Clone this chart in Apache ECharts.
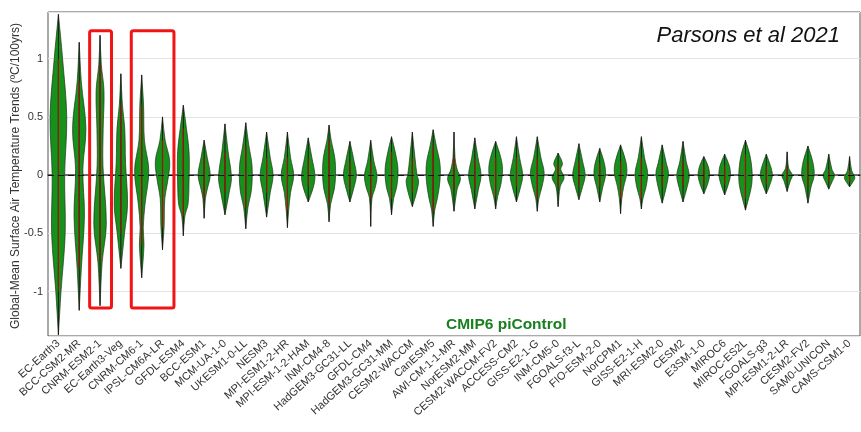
<!DOCTYPE html>
<html>
<head>
<meta charset="utf-8">
<script src="https://cdn.jsdelivr.net/npm/echarts@6/dist/echarts.min.js"></script>
<style>
  html, body { margin: 0; padding: 0; background: #fff; }
  #chart { width: 861px; height: 432px; }
</style>
</head>
<body>
<div id="chart"></div>
<script>
// CMIP6 models, in the order shown
var models = [
  'EC-Earth3', 'BCC-CSM2-MR', 'CNRM-ESM2-1', 'EC-Earth3-Veg', 'CNRM-CM6-1',
  'IPSL-CM6A-LR', 'GFDL-ESM4', 'BCC-ESM1', 'MCM-UA-1-0', 'UKESM1-0-LL',
  'NESM3', 'MPI-ESM1-2-HR', 'MPI-ESM-1-2-HAM', 'INM-CM4-8', 'HadGEM3-GC31-LL',
  'GFDL-CM4', 'HadGEM3-GC31-MM', 'CESM2-WACCM', 'CanESM5', 'AWI-CM-1-1-MR',
  'NorESM2-MM', 'CESM2-WACCM-FV2', 'ACCESS-CM2', 'GISS-E2-1-G', 'INM-CM5-0',
  'FGOALS-f3-L', 'FIO-ESM-2-0', 'NorCPM1', 'GISS-E2-1-H', 'MRI-ESM2-0',
  'CESM2', 'E3SM-1-0', 'MIROC6', 'MIROC-ES2L', 'FGOALS-g3',
  'MPI-ESM1-2-LR', 'CESM2-FV2', 'SAM0-UNICON', 'CAMS-CSM1-0'
];

// violin outlines: [trend value, relative density], from top tip to bottom tip
var violins = [
  [[1.38,0],[1.0,0.4],[0.5,0.8],[0.0,0.6],[-0.5,0.65],[-1.0,0.25],[-1.37,0]],
  [[1.14,0],[0.8,0.2],[0.4,0.64],[0.05,0.35],[-0.35,0.5],[-0.8,0.2],[-1.16,0]],
  [[1.2,0],[0.95,0.12],[0.72,0.38],[0.4,0.3],[0.08,0.28],[-0.42,0.6],[-0.75,0.2],[-1.12,0]],
  [[0.87,0],[0.6,0.15],[0.4,0.37],[0.1,0.45],[-0.25,0.64],[-0.5,0.35],[-0.8,0]],
  [[0.86,0],[0.6,0.18],[0.3,0.26],[0.04,0.68],[-0.25,0.32],[-0.45,0.15],[-0.6,0.22],[-0.88,0]],
  [[0.5,0],[0.3,0.25],[0.12,0.69],[-0.05,0.5],[-0.2,0.22],[-0.45,0.15],[-0.64,0]],
  [[0.6,0],[0.4,0.3],[0.2,0.55],[-0.05,0.55],[-0.25,0.45],[-0.35,0.15],[-0.52,0]],
  [[0.3,0],[0.15,0.3],[0.0,0.58],[-0.12,0.3],[-0.2,0.12],[-0.37,0]],
  [[0.44,0],[0.2,0.3],[-0.02,0.62],[-0.15,0.4],[-0.34,0]],
  [[0.45,0],[0.25,0.3],[0.08,0.6],[-0.12,0.55],[-0.28,0.2],[-0.46,0]],
  [[0.37,0],[0.15,0.35],[0.0,0.62],[-0.15,0.35],[-0.36,0]],
  [[0.37,0],[0.15,0.3],[0.0,0.6],[-0.15,0.3],[-0.3,0.12],[-0.45,0]],
  [[0.32,0],[0.15,0.35],[0.0,0.64],[-0.1,0.5],[-0.23,0]],
  [[0.43,0],[0.3,0.2],[0.15,0.55],[0.0,0.62],[-0.12,0.5],[-0.25,0.15],[-0.4,0]],
  [[0.29,0],[0.12,0.4],[0.0,0.62],[-0.12,0.35],[-0.23,0]],
  [[0.3,0],[0.12,0.3],[0.0,0.6],[-0.1,0.45],[-0.2,0.12],[-0.44,0]],
  [[0.33,0],[0.2,0.35],[0.05,0.62],[-0.1,0.5],[-0.2,0.2],[-0.34,0]],
  [[0.37,0],[0.15,0.25],[0.0,0.45],[-0.05,0.6],[-0.15,0.4],[-0.27,0]],
  [[0.39,0],[0.25,0.3],[0.1,0.65],[-0.05,0.65],[-0.2,0.4],[-0.3,0.15],[-0.44,0]],
  [[0.37,0],[0.15,0.1],[0.05,0.3],[-0.03,0.62],[-0.12,0.3],[-0.31,0]],
  [[0.32,0],[0.15,0.3],[0.0,0.6],[-0.12,0.35],[-0.29,0]],
  [[0.29,0],[0.15,0.5],[0.05,0.66],[-0.08,0.5],[-0.18,0.2],[-0.29,0]],
  [[0.33,0],[0.15,0.3],[0.0,0.6],[-0.1,0.4],[-0.23,0]],
  [[0.33,0],[0.15,0.35],[0.02,0.66],[-0.1,0.45],[-0.2,0.15],[-0.31,0]],
  [[0.19,0],[0.1,0.42],[0.05,0.25],[-0.02,0.58],[-0.1,0.2],[-0.27,0]],
  [[0.27,0],[0.12,0.35],[0.0,0.6],[-0.1,0.35],[-0.21,0]],
  [[0.23,0],[0.1,0.45],[0.0,0.55],[-0.1,0.3],[-0.23,0]],
  [[0.26,0],[0.12,0.5],[0.02,0.6],[-0.1,0.3],[-0.2,0.12],[-0.33,0]],
  [[0.33,0],[0.15,0.3],[0.02,0.6],[-0.1,0.45],[-0.2,0.15],[-0.29,0]],
  [[0.26,0],[0.1,0.4],[0.02,0.6],[-0.1,0.4],[-0.24,0]],
  [[0.29,0],[0.12,0.3],[0.0,0.6],[-0.1,0.4],[-0.23,0]],
  [[0.16,0],[0.08,0.4],[0.0,0.55],[-0.08,0.35],[-0.16,0]],
  [[0.18,0],[0.08,0.45],[0.0,0.55],[-0.08,0.35],[-0.17,0]],
  [[0.3,0],[0.18,0.4],[0.05,0.62],[-0.08,0.6],[-0.2,0.3],[-0.3,0]],
  [[0.18,0],[0.08,0.4],[0.0,0.58],[-0.08,0.35],[-0.16,0]],
  [[0.2,0],[0.06,0.15],[0.0,0.5],[-0.05,0.3],[-0.14,0]],
  [[0.25,0],[0.12,0.45],[0.0,0.6],[-0.1,0.3],[-0.24,0]],
  [[0.18,0],[0.05,0.3],[0.0,0.55],[-0.06,0.3],[-0.12,0]],
  [[0.16,0],[0.04,0.2],[-0.02,0.5],[-0.06,0.3],[-0.1,0]]
];

// highlighted model groups (first index, last index) and their vertical extent
var boxGroups = [[2, 2], [4, 5]];
var boxRange = [-1.14, 1.24];

var yTicks = [-1, -0.5, 0, 0.5, 1];

var chart = echarts.init(document.getElementById('chart'));

function renderViolin(params, api) {
  var i = api.value(0);
  var knots = violins[i];
  var band = api.size([1, 0])[0];
  var half = band / 2;
  var cx = api.coord([i, 0])[0];
  var right = [], left = [];
  for (var k = 0; k < knots.length; k++) {
    var y = api.coord([i, knots[k][0]])[1];
    right.push([cx + knots[k][1] * half, y]);
    left.unshift([cx - knots[k][1] * half, y]);
  }
  var top = api.coord([i, knots[0][0]])[1];
  var bot = api.coord([i, knots[knots.length - 1][0]])[1];
  var redTop = api.coord([i, knots[1][0]])[1];
  var redBot = api.coord([i, knots[knots.length - 2][0]])[1];
  return {
    type: 'group',
    children: [
      {
        type: 'polygon',
        shape: { points: right.concat(left), smooth: 0.35 },
        style: { fill: '#15911c', stroke: '#24331c', lineWidth: 0.7 }
      },
      {
        type: 'line',
        shape: { x1: cx, y1: top, x2: cx, y2: bot },
        style: { stroke: '#1a1a1a', lineWidth: 1 }
      },
      {
        type: 'line',
        shape: { x1: cx, y1: redTop, x2: cx, y2: redBot },
        style: { stroke: '#a3120c', lineWidth: 1.2 }
      }
    ]
  };
}

function renderBox(params, api) {
  var g = boxGroups[params.dataIndex];
  var band = api.size([1, 0])[0];
  var x0 = api.coord([g[0], 0])[0] - band * 0.5;
  var x1 = api.coord([g[1], 0])[0] + band * 0.55;
  var y0 = api.coord([g[0], boxRange[1]])[1];
  var y1 = api.coord([g[0], boxRange[0]])[1];
  return {
    type: 'rect',
    shape: { x: x0, y: y0, width: x1 - x0, height: y1 - y0, r: 2 },
    style: { fill: 'none', stroke: '#f21414', lineWidth: 3 }
  };
}

chart.setOption({
  animation: false,
  textStyle: { fontFamily: 'Liberation Sans, Arial, sans-serif' },
  grid: {
    left: 48, right: 1, top: 12, bottom: 96,
    outerBoundsMode: 'none',
    containLabel: false,
    show: true, borderColor: '#555', borderWidth: 1, backgroundColor: '#fff'
  },
  xAxis: {
    type: 'category',
    data: models,
    axisLine: { show: true, lineStyle: { color: '#444', width: 1.5 } },
    axisTick: { show: false },
    axisLabel: { rotate: 42, fontSize: 11, color: '#333', margin: 6, interval: 0 },
    splitLine: { show: false }
  },
  yAxis: {
    type: 'value',
    min: -1.38,
    max: 1.4,
    axisLine: { show: false },
    axisTick: { show: false },
    axisLabel: {
      fontSize: 11, color: '#333', margin: 5,
      showMinLabel: false, showMaxLabel: false,
      formatter: function (v) { return yTicks.indexOf(v) >= 0 ? String(v) : ''; }
    },
    splitLine: { show: true, lineStyle: { color: '#e3e3e3', width: 1 } }
  },
  series: [
    {
      type: 'custom',
      renderItem: renderViolin,
      data: models.map(function (m, i) { return [i]; }),
      encode: { x: 0 },
      clip: true,
      z: 2,
      markLine: {
        silent: true,
        symbol: 'none',
        label: { show: false },
        lineStyle: { color: '#111', type: [6, 4], width: 1.2 },
        data: [{ yAxis: 0 }],
        z: 5
      }
    },
    {
      type: 'custom',
      renderItem: renderBox,
      data: boxGroups.map(function (g, i) { return [g[0]]; }),
      encode: { x: 0 },
      clip: false,
      z: 6
    }
  ],
  graphic: [
    {
      type: 'text', x: 16, y: 176, rotation: Math.PI / 2,
      style: {
        text: 'Global-Mean Surface Air Temperature Trends (\u00baC/100yrs)',
        font: '12px Liberation Sans, Arial, sans-serif', fill: '#333',
        textAlign: 'center', textVerticalAlign: 'middle'
      }
    },
    {
      type: 'text', right: 21, top: 25,
      style: { text: 'Parsons et al 2021', font: 'italic 22px Liberation Sans, Arial, sans-serif', fill: '#111' }
    },
    {
      type: 'text', left: 446, top: 317,
      style: { text: 'CMIP6 piControl', font: 'bold 15.5px Liberation Sans, Arial, sans-serif', fill: '#1a7f1f' }
    }
  ]
});
</script>
</body>
</html>
